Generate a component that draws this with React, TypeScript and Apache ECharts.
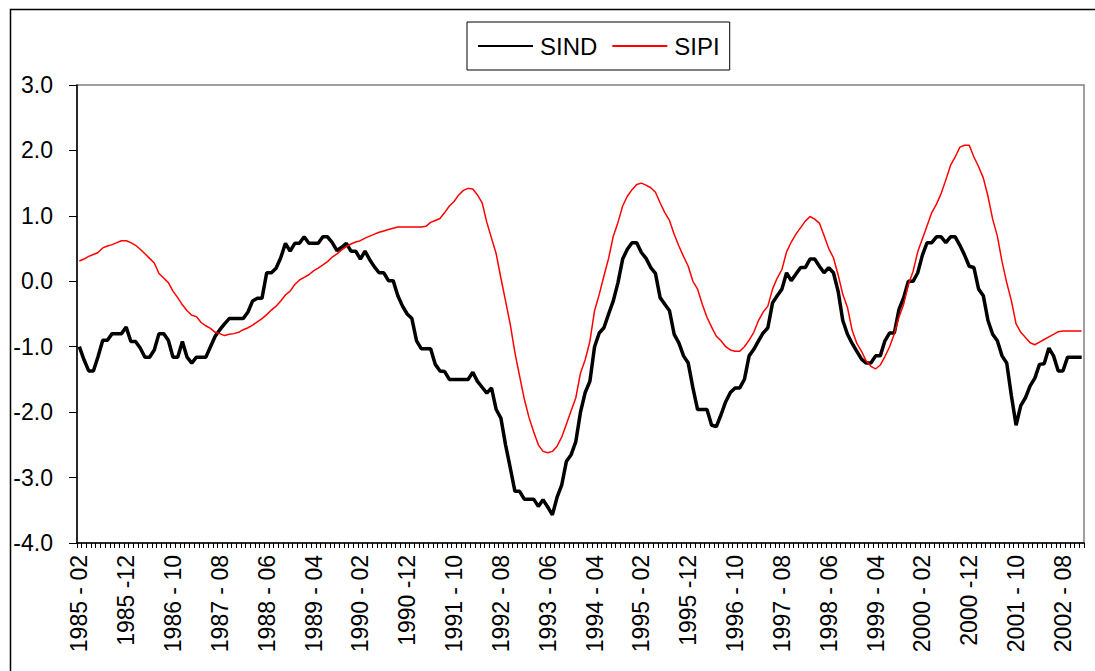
import React, { useEffect, useRef } from "react";
import * as echarts from "echarts";

const START_YEAR = 1985;
const START_MONTH = 2;
const N_MONTHS = 215;

const sind: number[] = [
  -1.0, -1.2, -1.37, -1.37, -1.15, -0.9, -0.9, -0.8, -0.8, -0.8,
  -0.7, -0.92, -0.92, -1.02, -1.16, -1.16, -1.05, -0.8, -0.8, -0.9,
  -1.16, -1.16, -0.92, -1.16, -1.25, -1.16, -1.16, -1.16, -1.0, -0.84,
  -0.74, -0.65, -0.57, -0.57, -0.57, -0.57, -0.47, -0.3, -0.26, -0.26,
  0.13, 0.13, 0.2, 0.36, 0.58, 0.46, 0.58, 0.58, 0.68, 0.58,
  0.58, 0.58, 0.68, 0.68, 0.59, 0.47, 0.52, 0.58, 0.46, 0.46,
  0.34, 0.46, 0.33, 0.22, 0.13, 0.13, 0.01, 0.01, -0.22, -0.38,
  -0.5, -0.57, -0.91, -1.03, -1.03, -1.03, -1.27, -1.37, -1.38, -1.5,
  -1.5, -1.5, -1.5, -1.5, -1.39, -1.53, -1.62, -1.71, -1.63, -1.96,
  -2.09, -2.5, -2.85, -3.21, -3.21, -3.33, -3.33, -3.33, -3.44, -3.34,
  -3.45, -3.57, -3.3, -3.11, -2.75, -2.65, -2.45, -2.0, -1.7, -1.53,
  -1.0, -0.79, -0.71, -0.5, -0.3, -0.02, 0.34, 0.49, 0.59, 0.59,
  0.44, 0.35, 0.21, 0.12, -0.25, -0.35, -0.45, -0.81, -0.94, -1.14,
  -1.25, -1.63, -1.96, -1.96, -1.96, -2.2, -2.22, -2.04, -1.84, -1.7,
  -1.63, -1.63, -1.5, -1.14, -1.04, -0.91, -0.79, -0.71, -0.33, -0.22,
  -0.12, 0.13, 0.01, 0.11, 0.21, 0.21, 0.34, 0.34, 0.23, 0.13,
  0.21, 0.13, -0.15, -0.6, -0.81, -0.95, -1.07, -1.19, -1.25, -1.25,
  -1.14, -1.14, -0.91, -0.79, -0.79, -0.43, -0.25, 0.0, 0.0, 0.13,
  0.4, 0.59, 0.59, 0.68, 0.68, 0.59, 0.68, 0.68, 0.55, 0.4,
  0.23, 0.21, -0.12, -0.22, -0.6, -0.81, -0.91, -1.14, -1.25, -1.75,
  -2.2, -1.9, -1.78, -1.6, -1.48, -1.27, -1.26, -1.02, -1.14, -1.37,
  -1.37, -1.16, -1.16, -1.16, -1.16,
];

const sipi: number[] = [
  0.31, 0.34, 0.38, 0.41, 0.44, 0.51, 0.54, 0.56, 0.59, 0.62,
  0.62, 0.59, 0.55, 0.49, 0.42, 0.35, 0.28, 0.12, 0.05, -0.02,
  -0.15, -0.25, -0.36, -0.45, -0.52, -0.54, -0.63, -0.68, -0.72, -0.78,
  -0.8, -0.83, -0.81, -0.8, -0.78, -0.74, -0.71, -0.67, -0.62, -0.57,
  -0.51, -0.44, -0.38, -0.3, -0.21, -0.15, -0.05, 0.02, 0.06, 0.1,
  0.16, 0.2, 0.25, 0.3, 0.37, 0.42, 0.48, 0.53, 0.57, 0.6,
  0.62, 0.66, 0.69, 0.72, 0.75, 0.77, 0.79, 0.81, 0.83, 0.83,
  0.83, 0.83, 0.83, 0.83, 0.84, 0.9, 0.93, 0.96, 1.05, 1.15,
  1.22, 1.32, 1.39, 1.42, 1.41, 1.32, 1.2, 0.9, 0.66, 0.42,
  0.05, -0.3, -0.66, -1.09, -1.45, -1.8, -2.08, -2.3, -2.5, -2.6,
  -2.62, -2.6, -2.52, -2.38, -2.18, -1.98, -1.78, -1.4, -1.2, -0.92,
  -0.45, -0.2, 0.08, 0.35, 0.69, 0.9, 1.15, 1.3, 1.4, 1.48,
  1.5, 1.47, 1.43, 1.36, 1.2, 1.05, 0.93, 0.72, 0.54, 0.38,
  0.23, 0.0, -0.12, -0.35, -0.55, -0.7, -0.84, -0.91, -1.0, -1.05,
  -1.07, -1.07, -1.0, -0.9, -0.78, -0.6, -0.47, -0.38, -0.12, 0.05,
  0.18, 0.45, 0.6, 0.72, 0.82, 0.92, 0.99, 0.95, 0.89, 0.7,
  0.5, 0.36, 0.1, -0.2, -0.4, -0.75, -0.95, -1.07, -1.22, -1.3,
  -1.34, -1.28, -1.15, -1.0, -0.8, -0.55, -0.35, -0.05, 0.15, 0.45,
  0.65, 0.85, 1.05, 1.18, 1.34, 1.55, 1.77, 1.9, 2.05, 2.08,
  2.08, 1.9, 1.75, 1.58, 1.3, 0.95, 0.69, 0.3, -0.02, -0.3,
  -0.65, -0.78, -0.86, -0.94, -0.97, -0.93, -0.89, -0.85, -0.81, -0.77,
  -0.76, -0.76, -0.76, -0.76, -0.76,
];

const categories: string[] = [];
for (let k = 0; k < N_MONTHS; k++) {
  const m0 = START_MONTH - 1 + k;
  const y = START_YEAR + Math.floor(m0 / 12);
  const m = (m0 % 12) + 1;
  categories.push(m === 12 ? `${y} -12` : `${y} - ${String(m).padStart(2, "0")}`);
}

const FONT = "'Liberation Sans', Arial, sans-serif";

export default function App() {
  const ref = useRef<HTMLDivElement>(null);
  useEffect(() => {
    if (!ref.current) return;
    const chart = echarts.init(ref.current, undefined, { renderer: "svg" });
    chart.setOption({
      animation: false,
      backgroundColor: "#ffffff",
      textStyle: { fontFamily: FONT },
      graphic: [
        {
          type: "rect",
          left: 8,
          top: 7,
          shape: { x: 0, y: 0, width: 1200, height: 800 },
          style: { fill: "none", stroke: "#000", lineWidth: 1.5 },
          silent: true,
        },
      ],
      legend: {
        left: 467,
        top: 22,
        orient: "horizontal",
        borderColor: "#000",
        borderWidth: 1,
        backgroundColor: "#fff",
        padding: [12, 10, 12, 10],
        itemWidth: 55,
        itemHeight: 20,
        itemGap: 14,
        itemStyle: { color: "transparent", borderColor: "transparent", borderWidth: 0, opacity: 0 },
        textStyle: { fontSize: 24, color: "#000", fontFamily: FONT, padding: [0, 0, 0, 2] },
        data: ["SIND", "SIPI"],
      },
      grid: {
        left: 77,
        right: 11,
        top: 85,
        bottom: 128,
        show: true,
        borderColor: "#808080",
        borderWidth: 1.5,
        containLabel: false,
      },
      xAxis: {
        type: "category",
        data: categories,
        boundaryGap: true,
        axisLine: { show: true, onZero: false, lineStyle: { color: "#000", width: 1.5 } },
        axisTick: {
          show: true,
          interval: 0,
          length: 5,
          lineStyle: { color: "#000", width: 1 },
        },
        axisLabel: {
          interval: 9,
          rotate: 90,
          fontSize: 23,
          margin: 12,
          color: "#000",
          fontFamily: FONT,
        },
        splitLine: { show: false },
      },
      yAxis: {
        type: "value",
        min: -4,
        max: 3,
        interval: 1,
        axisLine: { show: true, lineStyle: { color: "#000", width: 1.5 } },
        axisTick: { show: true, length: 8, lineStyle: { color: "#000", width: 1 } },
        axisLabel: {
          fontSize: 23,
          margin: 24,
          color: "#000",
          fontFamily: FONT,
          formatter: (v: number) => v.toFixed(1),
        },
        splitLine: { show: false },
      },
      series: [
        {
          name: "SIND",
          type: "line",
          data: sind,
          symbol: "none",
          lineStyle: { color: "#000", width: 3.5 },
          itemStyle: { color: "#000" },
        },
        {
          name: "SIPI",
          type: "line",
          data: sipi,
          symbol: "none",
          lineStyle: { color: "#ff0000", width: 1.5 },
          itemStyle: { color: "#ff0000" },
        },
      ],
    });
    return () => chart.dispose();
  }, []);
  return (
    <div
      ref={ref}
      style={{ position: "absolute", left: 0, top: 0, width: 1095, height: 671 }}
    />
  );
}
